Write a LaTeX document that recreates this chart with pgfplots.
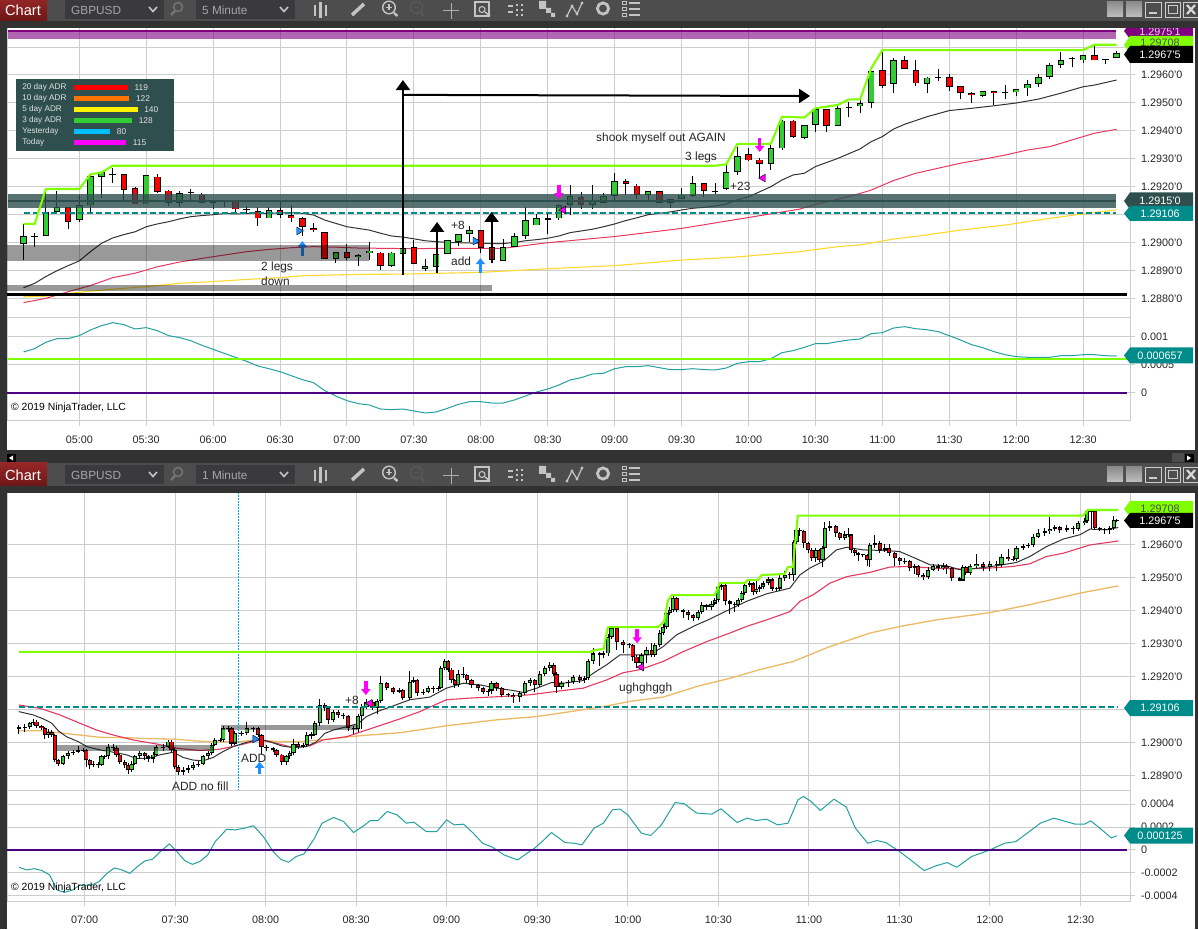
\documentclass[border=0pt]{standalone}
\usepackage{fontspec}
\setmainfont{Liberation Sans}
\usepackage{pgfplots}
\pgfplotsset{compat=1.18}
\usetikzlibrary{arrows.meta}
\definecolor{gridc}{HTML}{CDCDCD}
\definecolor{tbg}{HTML}{4D4D4D}
\definecolor{dk}{HTML}{323232}
\definecolor{boxc}{HTML}{3A3A3E}
\definecolor{ic}{HTML}{C4C4C4}
\definecolor{lime}{HTML}{7FFF00}
\definecolor{cg}{HTML}{32CD32}
\definecolor{cr}{HTML}{FF0000}
\definecolor{ma1}{HTML}{333333}
\definecolor{ma2}{HTML}{E6395F}
\definecolor{ma3}{HTML}{FFD92E}
\definecolor{ma4}{HTML}{EDB964}
\definecolor{dsl}{HTML}{2F4F4F}
\definecolor{tealf}{HTML}{008B8B}
\definecolor{oscc}{HTML}{24A0A0}
\definecolor{indig}{HTML}{4B0082}
\definecolor{purp}{HTML}{800080}
\definecolor{mag}{HTML}{FF00FF}
\definecolor{dblue}{HTML}{1E90FF}
\definecolor{skyb}{HTML}{00BFFF}
\definecolor{btna}{HTML}{962727}
\definecolor{btnb}{HTML}{6E1616}
\newcommand{\tl}{\fontsize{10.8}{12}\selectfont}
\newcommand{\ann}{\fontsize{11.9}{13}\selectfont}

% each bar: \C time open high low close;  turned into point lists for one path per layer
\def\C#1 #2 #3 #4 #5;{%
 \pgfmathsetmacro\cHi{max(#2,#5)}%
 \pgfmathsetmacro\cLo{min(#2,#5)}%
 \pgfmathsetmacro\cHa{max(\cHi,(#2+#5)/2+0.00002)}%
 \pgfmathsetmacro\cLa{min(\cLo,(#2+#5)/2-0.00002)}%
 \xdef\cW{\cW(#1,#4)(#1,#3)(#1,nan)}%
 \xdef\cK{\cK(#1,\cLa)(#1,\cHa)(#1,nan)}%
 \pgfmathtruncatemacro\cBig{(\cHi-\cLo)>0.00005}%
 \ifnum\cBig=1
  \pgfmathsetmacro\cHb{\cHi-0.00003}%
  \pgfmathsetmacro\cLb{\cLo+0.00003}%
  \ifdim#5pt>#2pt
   \xdef\cG{\cG(#1,\cLb)(#1,\cHb)(#1,nan)}%
  \else
   \xdef\cR{\cR(#1,\cLb)(#1,\cHb)(#1,nan)}%
  \fi
 \fi}
\newcommand{\buildbars}[1]{\gdef\cW{}\gdef\cK{}\gdef\cG{}\gdef\cR{}#1}
\newcommand{\drawbars}[2]{%
 \edef\tmpplot{\noexpand\addplot[forget plot,mark=none,black,line width=1pt,unbounded coords=jump] coordinates {\cW};}\tmpplot
 \edef\tmpplot{\noexpand\addplot[forget plot,mark=none,black,line width=#1pt,unbounded coords=jump] coordinates {\cK};}\tmpplot
 \edef\tmpplot{\noexpand\addplot[forget plot,mark=none,cg,line width=#2pt,unbounded coords=jump] coordinates {\cG};}\tmpplot
 \edef\tmpplot{\noexpand\addplot[forget plot,mark=none,cr,line width=#2pt,unbounded coords=jump] coordinates {\cR};}\tmpplot
}

% 5 minute bars: time (minutes after midnight), open, high, low, close
\def\barsA{%
\C 275 1.28998 1.29068 1.28939 1.29024;
\C 280 1.29024 1.29035 1.28987 1.29024;
\C 285 1.29025 1.29183 1.29025 1.29113;
\C 290 1.29113 1.29186 1.29113 1.29127;
\C 295 1.29127 1.29127 1.29050 1.29074;
\C 300 1.29081 1.29171 1.29076 1.29135;
\C 305 1.29133 1.29243 1.29111 1.29239;
\C 310 1.29238 1.29255 1.29161 1.29252;
\C 315 1.29246 1.29267 1.29215 1.29246;
\C 320 1.29245 1.29245 1.29150 1.29190;
\C 325 1.29195 1.29199 1.29138 1.29138;
\C 330 1.29138 1.29244 1.29138 1.29242;
\C 335 1.29238 1.29246 1.29180 1.29183;
\C 340 1.29187 1.29189 1.29133 1.29145;
\C 345 1.29145 1.29185 1.29130 1.29180;
\C 350 1.29180 1.29192 1.29149 1.29180;
\C 355 1.29173 1.29180 1.29145 1.29145;
\C 360 1.29145 1.29145 1.29123 1.29145;
\C 365 1.29148 1.29150 1.29130 1.29148;
\C 370 1.29149 1.29150 1.29111 1.29120;
\C 375 1.29118 1.29131 1.29106 1.29118;
\C 380 1.29115 1.29130 1.29062 1.29088;
\C 385 1.29088 1.29127 1.29088 1.29119;
\C 390 1.29119 1.29149 1.29088 1.29099;
\C 395 1.29100 1.29135 1.29076 1.29088;
\C 400 1.29090 1.29092 1.29026 1.29057;
\C 405 1.29055 1.29070 1.29040 1.29045;
\C 410 1.29040 1.29040 1.28945 1.28945;
\C 415 1.28945 1.28967 1.28929 1.28967;
\C 420 1.28967 1.28995 1.28939 1.28948;
\C 425 1.28949 1.28960 1.28919 1.28958;
\C 430 1.28963 1.29005 1.28939 1.28973;
\C 435 1.28965 1.28967 1.28904 1.28919;
\C 440 1.28917 1.28967 1.28915 1.28965;
\C 445 1.28960 1.28987 1.28960 1.28981;
\C 450 1.28985 1.29011 1.28925 1.28925;
\C 455 1.28908 1.28942 1.28901 1.28917;
\C 460 1.28915 1.28960 1.28892 1.28960;
\C 465 1.28960 1.29010 1.28960 1.29010;
\C 470 1.29005 1.29032 1.28990 1.29032;
\C 475 1.29031 1.29061 1.29002 1.29045;
\C 480 1.29045 1.29046 1.28965 1.28983;
\C 485 1.28985 1.28987 1.28927 1.28942;
\C 490 1.28937 1.29013 1.28937 1.28985;
\C 495 1.28985 1.29035 1.28985 1.29024;
\C 500 1.29024 1.29127 1.29015 1.29081;
\C 505 1.29063 1.29104 1.29063 1.29088;
\C 510 1.29088 1.29104 1.29032 1.29081;
\C 515 1.29088 1.29138 1.29081 1.29135;
\C 520 1.29135 1.29206 1.29099 1.29167;
\C 525 1.29163 1.29181 1.29123 1.29135;
\C 530 1.29135 1.29206 1.29123 1.29149;
\C 535 1.29145 1.29177 1.29145 1.29167;
\C 540 1.29167 1.29249 1.29152 1.29220;
\C 545 1.29220 1.29227 1.29170 1.29210;
\C 550 1.29206 1.29210 1.29156 1.29174;
\C 555 1.29174 1.29185 1.29145 1.29185;
\C 560 1.29185 1.29185 1.29145 1.29145;
\C 565 1.29145 1.29156 1.29124 1.29156;
\C 570 1.29156 1.29195 1.29156 1.29174;
\C 575 1.29167 1.29238 1.29163 1.29213;
\C 580 1.29213 1.29214 1.29163 1.29185;
\C 585 1.29185 1.29213 1.29174 1.29185;
\C 590 1.29192 1.29277 1.29188 1.29252;
\C 595 1.29252 1.29342 1.29242 1.29310;
\C 600 1.29317 1.29338 1.29292 1.29295;
\C 605 1.29299 1.29302 1.29235 1.29281;
\C 610 1.29281 1.29349 1.29260 1.29338;
\C 615 1.29338 1.29438 1.29331 1.29438;
\C 620 1.29438 1.29438 1.29374 1.29377;
\C 625 1.29374 1.29420 1.29370 1.29420;
\C 630 1.29420 1.29477 1.29395 1.29477;
\C 635 1.29477 1.29477 1.29395 1.29417;
\C 640 1.29417 1.29488 1.29417 1.29481;
\C 645 1.29483 1.29505 1.29449 1.29483;
\C 650 1.29488 1.29510 1.29463 1.29502;
\C 655 1.29502 1.29613 1.29481 1.29613;
\C 660 1.29617 1.29681 1.29552 1.29563;
\C 665 1.29567 1.29660 1.29535 1.29652;
\C 670 1.29652 1.29667 1.29624 1.29624;
\C 675 1.29617 1.29652 1.29560 1.29570;
\C 680 1.29567 1.29592 1.29535 1.29592;
\C 685 1.29592 1.29620 1.29577 1.29592;
\C 690 1.29595 1.29602 1.29542 1.29556;
\C 695 1.29560 1.29560 1.29513 1.29535;
\C 700 1.29535 1.29538 1.29499 1.29527;
\C 705 1.29524 1.29542 1.29520 1.29542;
\C 710 1.29542 1.29542 1.29492 1.29535;
\C 715 1.29537 1.29563 1.29513 1.29537;
\C 720 1.29538 1.29549 1.29524 1.29549;
\C 725 1.29552 1.29581 1.29524 1.29567;
\C 730 1.29567 1.29602 1.29556 1.29595;
\C 735 1.29595 1.29642 1.29585 1.29635;
\C 740 1.29635 1.29681 1.29624 1.29652;
\C 745 1.29660 1.29663 1.29627 1.29660;
\C 750 1.29652 1.29670 1.29642 1.29670;
\C 755 1.29670 1.29706 1.29652 1.29652;
\C 760 1.29655 1.29655 1.29638 1.29655;
\C 765 1.29660 1.29685 1.29660 1.29677;
}

% 1 minute chart, bars
\def\barsB{%
\C 398.2 1.29040 1.29052 1.29025 1.29047;
\C 400.2 1.29047 1.29055 1.29030 1.29045;
\C 401.9 1.29045 1.29062 1.29040 1.29057;
\C 403.0 1.29057 1.29072 1.29052 1.29063;
\C 404.1 1.29063 1.29068 1.29044 1.29049;
\C 405.7 1.29049 1.29053 1.29036 1.29042;
\C 406.8 1.29042 1.29046 1.29010 1.29022;
\C 408.0 1.29022 1.29040 1.29014 1.29032;
\C 409.1 1.29032 1.29036 1.29016 1.29022;
\C 410.2 1.29022 1.29026 1.28940 1.28946;
\C 411.3 1.28946 1.28950 1.28928 1.28936;
\C 412.9 1.28936 1.28962 1.28930 1.28956;
\C 414.6 1.28956 1.28975 1.28950 1.28967;
\C 416.2 1.28967 1.28976 1.28962 1.28972;
\C 417.9 1.28972 1.28990 1.28968 1.28977;
\C 419.5 1.28977 1.28982 1.28970 1.28977;
\C 420.6 1.28977 1.28980 1.28925 1.28946;
\C 421.7 1.28946 1.28950 1.28918 1.28931;
\C 422.9 1.28931 1.28944 1.28925 1.28936;
\C 424.5 1.28936 1.28940 1.28922 1.28931;
\C 425.6 1.28931 1.28962 1.28928 1.28956;
\C 426.7 1.28956 1.28962 1.28950 1.28956;
\C 427.8 1.28956 1.28995 1.28950 1.28985;
\C 429.5 1.28985 1.28996 1.28975 1.28982;
\C 430.6 1.28982 1.28988 1.28955 1.28962;
\C 431.7 1.28962 1.28966 1.28935 1.28941;
\C 433.3 1.28941 1.28945 1.28922 1.28931;
\C 434.5 1.28931 1.28936 1.28905 1.28916;
\C 435.6 1.28916 1.28942 1.28910 1.28936;
\C 436.7 1.28936 1.28962 1.28930 1.28956;
\C 438.3 1.28956 1.28973 1.28950 1.28967;
\C 440.0 1.28967 1.28972 1.28945 1.28956;
\C 441.1 1.28956 1.28960 1.28940 1.28951;
\C 442.7 1.28951 1.28970 1.28938 1.28962;
\C 443.8 1.28962 1.28992 1.28958 1.28985;
\C 446.0 1.28985 1.28996 1.28975 1.28987;
\C 447.7 1.28987 1.29008 1.28982 1.29002;
\C 448.8 1.29002 1.29006 1.28970 1.28977;
\C 449.9 1.28977 1.28982 1.28920 1.28926;
\C 451.0 1.28926 1.28930 1.28902 1.28911;
\C 452.7 1.28911 1.28924 1.28902 1.28916;
\C 454.3 1.28916 1.28930 1.28908 1.28921;
\C 456.0 1.28921 1.28940 1.28915 1.28931;
\C 457.6 1.28931 1.28942 1.28926 1.28936;
\C 459.3 1.28936 1.28962 1.28932 1.28956;
\C 461.0 1.28956 1.28975 1.28950 1.28967;
\C 462.1 1.28967 1.28998 1.28960 1.28992;
\C 463.2 1.28992 1.29014 1.28988 1.29007;
\C 465.0 1.29007 1.29012 1.29000 1.29007;
\C 466.0 1.29007 1.29050 1.29002 1.29042;
\C 467.6 1.29042 1.29048 1.29030 1.29042;
\C 468.7 1.29042 1.29046 1.28990 1.28997;
\C 469.8 1.28997 1.29033 1.28992 1.29027;
\C 472.0 1.29027 1.29034 1.29020 1.29027;
\C 473.7 1.29027 1.29060 1.29022 1.29042;
\C 475.9 1.29042 1.29046 1.29032 1.29042;
\C 477.5 1.29042 1.29045 1.29015 1.29022;
\C 478.6 1.29022 1.29026 1.28965 1.28987;
\C 480.3 1.28987 1.28992 1.28975 1.28982;
\C 482.5 1.28982 1.28986 1.28970 1.28977;
\C 483.6 1.28977 1.28980 1.28955 1.28962;
\C 485.3 1.28962 1.28966 1.28930 1.28941;
\C 486.9 1.28941 1.28962 1.28930 1.28956;
\C 488.0 1.28956 1.28975 1.28950 1.28967;
\C 489.2 1.28967 1.29010 1.28960 1.28997;
\C 490.8 1.28997 1.29002 1.28980 1.28987;
\C 492.4 1.28987 1.28998 1.28982 1.28992;
\C 493.6 1.28992 1.29030 1.28986 1.29022;
\C 495.2 1.29022 1.29030 1.29010 1.29022;
\C 496.3 1.29022 1.29065 1.29018 1.29057;
\C 498.0 1.29057 1.29130 1.29050 1.29113;
\C 499.6 1.29113 1.29118 1.29095 1.29103;
\C 500.7 1.29103 1.29106 1.29055 1.29068;
\C 502.4 1.29068 1.29098 1.29060 1.29093;
\C 504.0 1.29093 1.29098 1.29075 1.29083;
\C 505.7 1.29083 1.29090 1.29070 1.29078;
\C 507.3 1.29078 1.29082 1.29035 1.29042;
\C 509.2 1.29042 1.29050 1.29025 1.29039;
\C 510.6 1.29039 1.29085 1.29030 1.29078;
\C 511.9 1.29078 1.29115 1.29040 1.29108;
\C 513.4 1.29108 1.29130 1.29102 1.29123;
\C 515.4 1.29123 1.29128 1.29098 1.29105;
\C 517.0 1.29105 1.29130 1.29085 1.29125;
\C 518.1 1.29125 1.29200 1.29118 1.29179;
\C 520.1 1.29179 1.29184 1.29158 1.29164;
\C 522.2 1.29164 1.29168 1.29146 1.29153;
\C 524.2 1.29153 1.29165 1.29148 1.29158;
\C 525.4 1.29158 1.29162 1.29128 1.29134;
\C 527.8 1.29134 1.29215 1.29128 1.29184;
\C 528.9 1.29184 1.29198 1.29180 1.29189;
\C 530.2 1.29189 1.29192 1.29140 1.29149;
\C 532.2 1.29149 1.29160 1.29142 1.29154;
\C 533.9 1.29154 1.29172 1.29148 1.29164;
\C 535.5 1.29164 1.29170 1.29150 1.29160;
\C 537.2 1.29160 1.29172 1.29154 1.29164;
\C 538.0 1.29164 1.29232 1.29160 1.29225;
\C 539.4 1.29225 1.29252 1.29218 1.29245;
\C 540.5 1.29245 1.29250 1.29212 1.29220;
\C 541.6 1.29220 1.29224 1.29180 1.29189;
\C 542.7 1.29189 1.29192 1.29165 1.29174;
\C 543.8 1.29174 1.29220 1.29168 1.29209;
\C 545.5 1.29209 1.29228 1.29196 1.29204;
\C 546.6 1.29204 1.29208 1.29180 1.29189;
\C 548.2 1.29189 1.29192 1.29165 1.29174;
\C 550.4 1.29174 1.29178 1.29155 1.29164;
\C 552.1 1.29164 1.29168 1.29145 1.29154;
\C 553.7 1.29154 1.29162 1.29140 1.29157;
\C 554.8 1.29157 1.29185 1.29145 1.29179;
\C 556.5 1.29179 1.29183 1.29155 1.29164;
\C 558.2 1.29164 1.29168 1.29136 1.29144;
\C 560.4 1.29144 1.29150 1.29136 1.29144;
\C 562.0 1.29144 1.29148 1.29120 1.29137;
\C 564.2 1.29137 1.29155 1.29122 1.29149;
\C 565.9 1.29149 1.29185 1.29142 1.29179;
\C 567.6 1.29179 1.29195 1.29172 1.29189;
\C 569.2 1.29189 1.29193 1.29152 1.29174;
\C 570.9 1.29174 1.29216 1.29168 1.29209;
\C 572.5 1.29209 1.29232 1.29200 1.29225;
\C 574.2 1.29225 1.29242 1.29215 1.29235;
\C 575.5 1.29235 1.29240 1.29200 1.29209;
\C 576.4 1.29209 1.29212 1.29150 1.29169;
\C 578.0 1.29169 1.29186 1.29160 1.29179;
\C 580.2 1.29179 1.29190 1.29168 1.29184;
\C 581.9 1.29184 1.29205 1.29178 1.29199;
\C 584.1 1.29199 1.29204 1.29180 1.29189;
\C 585.8 1.29189 1.29200 1.29180 1.29194;
\C 586.9 1.29194 1.29252 1.29188 1.29245;
\C 588.5 1.29245 1.29285 1.29238 1.29270;
\C 590.7 1.29270 1.29275 1.29230 1.29265;
\C 591.9 1.29265 1.29278 1.29255 1.29270;
\C 593.5 1.29270 1.29328 1.29262 1.29320;
\C 594.6 1.29320 1.29350 1.29312 1.29346;
\C 596.3 1.29346 1.29350 1.29280 1.29305;
\C 598.5 1.29305 1.29310 1.29270 1.29295;
\C 600.4 1.29295 1.29302 1.29285 1.29295;
\C 601.6 1.29295 1.29299 1.29245 1.29260;
\C 602.9 1.29260 1.29264 1.29225 1.29240;
\C 604.5 1.29240 1.29272 1.29218 1.29265;
\C 606.2 1.29265 1.29290 1.29240 1.29280;
\C 607.9 1.29280 1.29300 1.29260 1.29265;
\C 609.0 1.29265 1.29302 1.29260 1.29295;
\C 610.6 1.29295 1.29340 1.29288 1.29331;
\C 611.7 1.29331 1.29358 1.29325 1.29350;
\C 612.8 1.29350 1.29398 1.29342 1.29391;
\C 613.9 1.29391 1.29410 1.29385 1.29401;
\C 615.0 1.29401 1.29442 1.29396 1.29436;
\C 616.1 1.29436 1.29440 1.29395 1.29401;
\C 618.3 1.29401 1.29405 1.29378 1.29396;
\C 620.0 1.29396 1.29402 1.29370 1.29386;
\C 621.7 1.29386 1.29390 1.29368 1.29376;
\C 623.3 1.29376 1.29402 1.29370 1.29396;
\C 624.5 1.29396 1.29425 1.29390 1.29416;
\C 626.1 1.29416 1.29420 1.29400 1.29411;
\C 627.7 1.29411 1.29428 1.29402 1.29421;
\C 628.8 1.29421 1.29438 1.29415 1.29431;
\C 630.0 1.29431 1.29480 1.29425 1.29471;
\C 631.0 1.29471 1.29484 1.29462 1.29477;
\C 632.2 1.29477 1.29482 1.29415 1.29426;
\C 633.8 1.29426 1.29430 1.29390 1.29421;
\C 635.5 1.29421 1.29425 1.29395 1.29416;
\C 636.6 1.29416 1.29438 1.29410 1.29431;
\C 637.7 1.29431 1.29458 1.29426 1.29451;
\C 638.8 1.29451 1.29482 1.29445 1.29477;
\C 640.4 1.29477 1.29490 1.29470 1.29482;
\C 641.5 1.29482 1.29486 1.29445 1.29456;
\C 642.6 1.29456 1.29490 1.29450 1.29466;
\C 643.7 1.29466 1.29478 1.29455 1.29472;
\C 644.8 1.29472 1.29488 1.29465 1.29482;
\C 646.5 1.29482 1.29500 1.29476 1.29494;
\C 647.9 1.29494 1.29498 1.29460 1.29467;
\C 649.3 1.29467 1.29472 1.29460 1.29467;
\C 650.4 1.29467 1.29512 1.29460 1.29497;
\C 652.0 1.29497 1.29520 1.29490 1.29507;
\C 653.7 1.29507 1.29515 1.29495 1.29507;
\C 655.0 1.29507 1.29612 1.29490 1.29608;
\C 655.9 1.29608 1.29650 1.29600 1.29644;
\C 657.0 1.29644 1.29650 1.29625 1.29639;
\C 658.3 1.29639 1.29642 1.29590 1.29603;
\C 659.8 1.29603 1.29606 1.29575 1.29583;
\C 660.9 1.29583 1.29588 1.29550 1.29558;
\C 662.3 1.29558 1.29590 1.29545 1.29583;
\C 663.4 1.29583 1.29586 1.29545 1.29553;
\C 664.5 1.29553 1.29595 1.29530 1.29588;
\C 665.3 1.29588 1.29668 1.29580 1.29649;
\C 666.9 1.29649 1.29672 1.29640 1.29656;
\C 668.9 1.29656 1.29660 1.29622 1.29634;
\C 670.2 1.29634 1.29638 1.29612 1.29619;
\C 671.9 1.29619 1.29640 1.29612 1.29629;
\C 673.0 1.29629 1.29648 1.29622 1.29629;
\C 674.0 1.29629 1.29632 1.29575 1.29583;
\C 675.2 1.29583 1.29590 1.29565 1.29573;
\C 676.3 1.29573 1.29578 1.29550 1.29568;
\C 677.8 1.29568 1.29572 1.29562 1.29568;
\C 679.3 1.29568 1.29572 1.29535 1.29553;
\C 680.2 1.29553 1.29605 1.29530 1.29598;
\C 681.8 1.29598 1.29628 1.29590 1.29603;
\C 683.5 1.29603 1.29610 1.29575 1.29583;
\C 685.2 1.29583 1.29600 1.29578 1.29588;
\C 686.6 1.29588 1.29600 1.29565 1.29573;
\C 688.5 1.29573 1.29578 1.29535 1.29558;
\C 690.1 1.29558 1.29562 1.29538 1.29548;
\C 691.8 1.29548 1.29560 1.29540 1.29548;
\C 693.4 1.29548 1.29552 1.29520 1.29528;
\C 695.1 1.29528 1.29540 1.29510 1.29533;
\C 696.2 1.29533 1.29536 1.29500 1.29507;
\C 697.9 1.29507 1.29512 1.29492 1.29500;
\C 699.5 1.29500 1.29530 1.29495 1.29523;
\C 701.2 1.29523 1.29540 1.29518 1.29533;
\C 702.8 1.29533 1.29540 1.29520 1.29528;
\C 704.5 1.29528 1.29542 1.29522 1.29535;
\C 705.6 1.29535 1.29540 1.29510 1.29528;
\C 707.3 1.29528 1.29532 1.29490 1.29497;
\C 710.0 1.29497 1.29500 1.29488 1.29490;
\C 711.0 1.29490 1.29536 1.29488 1.29531;
\C 712.0 1.29531 1.29535 1.29508 1.29513;
\C 713.5 1.29513 1.29540 1.29508 1.29533;
\C 715.5 1.29533 1.29570 1.29528 1.29541;
\C 717.7 1.29541 1.29546 1.29518 1.29531;
\C 720.0 1.29531 1.29550 1.29520 1.29541;
\C 722.2 1.29541 1.29548 1.29520 1.29538;
\C 723.8 1.29538 1.29570 1.29530 1.29563;
\C 726.0 1.29563 1.29585 1.29550 1.29555;
\C 727.7 1.29555 1.29565 1.29550 1.29555;
\C 728.8 1.29555 1.29595 1.29550 1.29588;
\C 731.0 1.29588 1.29600 1.29584 1.29595;
\C 732.7 1.29595 1.29605 1.29590 1.29598;
\C 734.3 1.29598 1.29632 1.29592 1.29624;
\C 736.0 1.29624 1.29645 1.29618 1.29634;
\C 738.2 1.29634 1.29648 1.29625 1.29639;
\C 739.8 1.29639 1.29682 1.29632 1.29646;
\C 741.5 1.29646 1.29660 1.29640 1.29652;
\C 743.1 1.29652 1.29656 1.29635 1.29644;
\C 745.4 1.29644 1.29660 1.29636 1.29649;
\C 747.6 1.29649 1.29654 1.29630 1.29646;
\C 749.2 1.29646 1.29672 1.29640 1.29664;
\C 751.4 1.29664 1.29680 1.29658 1.29672;
\C 752.2 1.29672 1.29706 1.29665 1.29699;
\C 753.6 1.29699 1.29708 1.29645 1.29699;
\C 754.7 1.29699 1.29702 1.29642 1.29649;
\C 756.4 1.29649 1.29653 1.29640 1.29646;
\C 758.1 1.29646 1.29650 1.29632 1.29644;
\C 759.7 1.29644 1.29656 1.29630 1.29649;
\C 761.0 1.29649 1.29685 1.29642 1.29674;
\C 762.0 1.29674 1.29678 1.29668 1.29672;
}

\pgfplotsset{
 panel/.style={scale only axis,width=1123pt,clip=true,xmajorgrids,ymajorgrids,
  grid style={draw=gridc,line width=1pt},axis line style={draw=gridc,line width=1pt},
  tick style={draw=gridc,line width=1pt},tick align=outside,major tick length=5pt,
  ytick pos=right,yticklabel pos=right,xtick pos=bottom,
  ticklabel style={font=\tl,text=black!85},
  yticklabel style={anchor=west,xshift=2.5pt},
  xticklabel shift=6pt,
  scaled y ticks=false},
 topx/.style={xmin=267.6,xmax=771,xtick={300,330,...,750}},
 botx/.style={xmin=394.3,xmax=766.4,xtick={420,450,...,750}},
 noxlab/.style={xticklabels={},xtick style={draw=none}},
 mline/.style={line width=1pt,line join=round,forget plot,mark=none}
}

\begin{document}
\begin{tikzpicture}
\useasboundingbox (0,0) rectangle (1198pt,929pt);
\fill[dk] (0,0) rectangle (1198pt,929pt);
\fill[white] (6.5pt,436pt) rectangle (1195pt,901pt);
\fill[white] (6.5pt,0pt) rectangle (1195pt,436pt);
\fill[dk] (0pt,436pt) rectangle (1198pt,479pt);

% ---------- 5 minute price panel
\begin{axis}[panel,topx,noxlab,at={(7pt,611pt)},anchor=south west,height=290pt,
 ymin=1.287321,ymax=1.297679,
 ytick={1.288,1.289,1.29,1.291,1.292,1.293,1.294,1.295,1.296,1.297},
 yticklabels={1.2880'0,1.2890'0,1.2900'0,1.2910'0,1.2920'0,1.2930'0,1.2940'0,1.2950'0,1.2960'0,1.2970'0}]
\addplot[mline,ma3,line width=1.1pt] coordinates {(275,1.28808)(285,1.28810)(300,1.28824)(315,1.28835)(330,1.28844)(345,1.28856)(360,1.28862)(375,1.28870)(390,1.28876)(400,1.28883)(420,1.28887)(445,1.28889)(480,1.28895)(510,1.28908)(540,1.28919)(570,1.28939)(593,1.28949)(623,1.28969)(640,1.28987)(650,1.28993)(665,1.29014)(680,1.29029)(695,1.29046)(715,1.29064)(735,1.29088)(750,1.29104)(765,1.29118)};
\addplot[mline,ma2] coordinates {(275,1.28787)(285,1.28802)(295,1.28826)(305,1.28848)(315,1.28876)(325,1.28892)(335,1.28915)(345,1.28932)(355,1.28945)(365,1.28957)(375,1.28969)(385,1.28977)(395,1.28983)(405,1.28987)(415,1.28985)(425,1.28982)(435,1.28981)(445,1.28980)(480,1.28981)(490,1.28981)(510,1.29001)(540,1.29023)(570,1.29052)(593,1.29082)(623,1.29121)(630,1.29138)(640,1.29156)(650,1.29177)(655,1.29189)(665,1.29223)(675,1.29249)(685,1.29267)(695,1.29285)(705,1.29299)(715,1.29314)(725,1.29332)(735,1.29344)(745,1.29368)(755,1.29392)(765,1.29406)};
\addplot[mline,ma1] coordinates {(275,1.28840)(280,1.28856)(285,1.28880)(290,1.28901)(295,1.28919)(300,1.28936)(305,1.28969)(310,1.28999)(315,1.29018)(320,1.29030)(325,1.29040)(330,1.29058)(335,1.29068)(340,1.29076)(345,1.29086)(350,1.29094)(355,1.29098)(360,1.29101)(365,1.29105)(370,1.29104)(375,1.29105)(380,1.29106)(385,1.29106)(390,1.29107)(395,1.29108)(400,1.29106)(405,1.29100)(410,1.29082)(415,1.29070)(420,1.29058)(425,1.29052)(430,1.29046)(435,1.29035)(440,1.29025)(445,1.29021)(450,1.29015)(455,1.29008)(460,1.29005)(465,1.29002)(470,1.29001)(475,1.29000)(480,1.28999)(485,1.28998)(490,1.28998)(495,1.29002)(500,1.29008)(505,1.29012)(510,1.29017)(515,1.29025)(520,1.29037)(525,1.29043)(530,1.29049)(535,1.29058)(540,1.29068)(545,1.29080)(550,1.29090)(555,1.29101)(560,1.29106)(565,1.29111)(570,1.29118)(575,1.29124)(580,1.29127)(585,1.29132)(590,1.29139)(595,1.29154)(600,1.29165)(605,1.29183)(610,1.29201)(615,1.29225)(620,1.29243)(625,1.29249)(630,1.29273)(640,1.29302)(650,1.29336)(655,1.29362)(660,1.29380)(665,1.29407)(670,1.29424)(680,1.29451)(690,1.29473)(700,1.29481)(710,1.29490)(720,1.29500)(730,1.29514)(740,1.29535)(750,1.29558)(755,1.29564)(765,1.29582)};
\buildbars{\barsA}
\drawbars{6.5}{4.6}
\addplot[mline,dblue,line width=3.5pt,-{Triangle[width=9pt,length=6pt]}] coordinates {(400,1.28954)(400,1.29007)};
% zones
\addplot[fill=black,fill opacity=.4,draw=none,forget plot] coordinates {(267.6,1.28992)(430,1.28992)(430,1.28936)(267.6,1.28936)} --cycle;
\addplot[fill=black,fill opacity=.4,draw=none,forget plot] coordinates {(267.6,1.28850)(485,1.28850)(485,1.28829)(267.6,1.28829)} --cycle;
\addplot[fill=dsl,fill opacity=.8,draw=none,forget plot] coordinates {(268,1.29175)(764.8,1.29175)(764.8,1.29125)(268,1.29125)} --cycle;
\addplot[mline,dsl,line width=2pt] coordinates {(268,1.2915)(764.8,1.2915)};
\addplot[fill=purp,fill opacity=.6,draw=none,forget plot] coordinates {(268,1.29754)(764.8,1.29754)(764.8,1.29729)(268,1.29729)} --cycle;
\addplot[mline,purp,line width=2pt] coordinates {(268,1.29757)(764.8,1.29757)};
% levels
\addplot[mline,tealf,line width=2pt,dash pattern=on 6pt off 3pt] coordinates {(275,1.29106)(764.8,1.29106)};
\addplot[mline,black,line width=3pt] coordinates {(267.6,1.28817)(769.7,1.28817)};
\addplot[mline,lime,line width=2.1pt] coordinates {(275,1.29068)(280,1.29068)(285,1.29193)(300,1.29193)(305,1.29245)(310,1.29252)(315,1.29276)(585,1.29276)(590,1.29281)(595,1.29354)(610,1.29354)(615,1.29451)(625,1.29448)(630,1.29481)(640,1.29493)(645,1.29513)(650,1.29513)(655,1.29624)(660,1.29689)(750,1.29689)(755,1.29708)(765,1.29708)};
% annotation arrows
\addplot[mline,black,line width=2pt,-{Triangle[width=14pt,length=10pt]}] coordinates {(445.1,1.28886)(445.1,1.29582)};
\addplot[mline,black,line width=2pt,-{Triangle[width=14pt,length=11pt]}] coordinates {(445.1,1.29529)(627.6,1.29525)};
\addplot[mline,black,line width=2pt,-{Triangle[width=14pt,length=10pt]}] coordinates {(460.4,1.28893)(460.4,1.29075)};
\addplot[mline,black,line width=2pt,-{Triangle[width=14pt,length=10pt]}] coordinates {(484.8,1.28929)(484.8,1.29111)};
\addplot[mline,dblue,line width=3.5pt,-{Triangle[width=9pt,length=6pt]}] coordinates {(479.8,1.28894)(479.8,1.28946)};
\addplot[mline,mag,line width=3.5pt,-{Triangle[width=9pt,length=6pt]}] coordinates {(515,1.29207)(515,1.29157)};
\addplot[mline,mag,line width=3.5pt,-{Triangle[width=9pt,length=6pt]}] coordinates {(605,1.29375)(605,1.29325)};
\addplot[only marks,forget plot,mark=triangle*,mark size=4.5pt,mark options={rotate=-90,fill=dblue,draw=none}] coordinates {(398.5,1.29043)(477.5,1.29007)};
\addplot[only marks,forget plot,mark=triangle*,mark size=4.5pt,mark options={rotate=90,fill=mag,draw=none}] coordinates {(517,1.29118)(606.5,1.29232)};
\end{axis}

% ---------- 5 minute oscillator
\begin{axis}[panel,topx,at={(7pt,508pt)},anchor=south west,height=103pt,
 ymin=-0.0005,ymax=0.001339,ytick={0,0.0005,0.001},yticklabels={0,0.0005,0.001},
 xticklabels={05:00,05:30,06:00,06:30,07:00,07:30,08:00,08:30,09:00,09:30,10:00,10:30,11:00,11:30,12:00,12:30}]
\addplot[mline,oscc] coordinates {(275,0.000732)(280,0.000792)(285,0.000905)(290,0.000970)(295,0.000970)(300,0.001024)(305,0.001125)(310,0.001202)(315,0.001256)(320,0.001220)(325,0.001143)(330,0.001167)(335,0.001113)(340,0.001024)(345,0.000988)(350,0.000934)(355,0.000851)(360,0.000780)(365,0.000708)(370,0.000637)(375,0.000565)(380,0.000482)(385,0.000434)(390,0.000381)(395,0.000309)(400,0.000238)(405,0.000184)(410,0.000042)(415,-0.000054)(420,-0.000137)(425,-0.000190)(430,-0.000214)(435,-0.000286)(440,-0.000298)(445,-0.000286)(450,-0.000321)(455,-0.000357)(460,-0.000339)(465,-0.000274)(470,-0.000202)(475,-0.000155)(480,-0.000155)(485,-0.000179)(490,-0.000179)(495,-0.000125)(500,-0.000054)(505,0.000018)(510,0.000071)(515,0.000143)(520,0.000232)(525,0.000274)(530,0.000339)(535,0.000351)(540,0.000434)(545,0.000470)(550,0.000470)(555,0.000488)(560,0.000452)(565,0.000417)(570,0.000417)(575,0.000434)(580,0.000417)(585,0.000411)(590,0.000446)(595,0.000530)(600,0.000559)(605,0.000559)(610,0.000613)(615,0.000720)(620,0.000756)(625,0.000815)(630,0.000881)(635,0.000881)(640,0.000916)(645,0.000946)(650,0.000964)(655,0.001059)(660,0.001077)(665,0.001160)(670,0.001184)(675,0.001148)(680,0.001130)(685,0.001095)(690,0.001023)(695,0.000946)(700,0.000863)(705,0.000809)(710,0.000738)(715,0.000684)(720,0.000649)(725,0.000637)(730,0.000637)(735,0.000637)(740,0.000666)(745,0.000666)(750,0.000684)(755,0.000684)(760,0.000666)(765,0.000660)};
\addplot[mline,lime,line width=2.1pt] coordinates {(267.6,0.000612)(769.7,0.000612)};
\addplot[mline,indig,line width=2pt] coordinates {(267.6,0)(769.7,0)};
\end{axis}

% ---------- 1 minute price panel
\begin{axis}[panel,botx,noxlab,at={(7pt,138.3pt)},anchor=south west,height=297.7pt,
 ymin=1.288533,ymax=1.297555,
 ytick={1.289,1.29,1.291,1.292,1.293,1.294,1.295,1.296},
 yticklabels={1.2890'0,1.2900'0,1.2910'0,1.2920'0,1.2930'0,1.2940'0,1.2950'0,1.2960'0}]
\addplot[mline,ma4,line width=1.3pt] coordinates {(398.2,1.29035)(405.2,1.29035)(411.3,1.29029)(418.4,1.29022)(425.1,1.29015)(433.9,1.29014)(441.6,1.29011)(449.4,1.29010)(457.1,1.29004)(463.7,1.29001)(471.5,1.29002)(477,1.29007)(484.7,1.29002)(491.3,1.29002)(498,1.29007)(510.1,1.29019)(524.5,1.29029)(531.1,1.29038)(539.9,1.29050)(556.5,1.29068)(569.8,1.29078)(590.7,1.29106)(600.7,1.29124)(611.7,1.29137)(622.8,1.29169)(633.8,1.29194)(643.7,1.29220)(654.8,1.29245)(666.9,1.29290)(680.2,1.29331)(690.1,1.29351)(702.3,1.29371)(720,1.29393)(733.2,1.29417)(749.8,1.29452)(762.5,1.29474)};
\addplot[mline,ma2,line width=1.1pt] coordinates {(398.2,1.29113)(405.2,1.29103)(411.8,1.29083)(418.4,1.29058)(424,1.29037)(429.5,1.29022)(436.1,1.29007)(443.8,1.28995)(450.5,1.28982)(458.2,1.28975)(464.8,1.28979)(471.5,1.28992)(478.1,1.29007)(483.6,1.28997)(489.1,1.28984)(494.6,1.28989)(499,1.29007)(506.8,1.29017)(513.4,1.29037)(524.5,1.29071)(531.1,1.29093)(539.9,1.29129)(547.7,1.29134)(558.7,1.29139)(567.6,1.29144)(578.6,1.29157)(585.2,1.29164)(593,1.29189)(598.5,1.29211)(604,1.29220)(611.7,1.29245)(618.4,1.29275)(626.1,1.29305)(633.8,1.29331)(639.3,1.29351)(646,1.29371)(653.7,1.29396)(657,1.29427)(661.4,1.29447)(666.9,1.29482)(672.5,1.29502)(680.2,1.29515)(686.8,1.29531)(693.4,1.29533)(702.3,1.29527)(711.1,1.29525)(720,1.29528)(727.7,1.29533)(733.2,1.29541)(738.7,1.29563)(744.3,1.29573)(753.1,1.29598)(762.5,1.29610)};
\addplot[mline,ma1] coordinates {(398.2,1.29093)(403,1.29083)(406.3,1.29071)(409.1,1.29058)(411.3,1.29035)(414,1.29017)(417.9,1.29002)(420.7,1.28987)(425.1,1.28977)(429.5,1.28970)(433.9,1.28962)(437.2,1.28951)(441.1,1.28951)(445,1.28962)(449.4,1.28970)(452.7,1.28954)(456,1.28946)(459.3,1.28944)(462.6,1.28954)(465.9,1.28972)(469.2,1.28987)(473.7,1.29000)(478.1,1.29009)(481.4,1.29002)(485.3,1.28989)(489.1,1.28984)(493.5,1.28987)(496.9,1.29002)(499.6,1.29027)(502.4,1.29037)(506.8,1.29047)(510.7,1.29057)(513.4,1.29078)(517.8,1.29096)(522.2,1.29110)(524.5,1.29118)(527.8,1.29129)(534.4,1.29137)(539.9,1.29164)(545.5,1.29179)(551,1.29174)(556.5,1.29164)(562,1.29157)(565.3,1.29151)(569.8,1.29164)(574.7,1.29181)(578.6,1.29179)(585.2,1.29187)(588.5,1.29209)(593,1.29235)(597.4,1.29265)(602.9,1.29265)(607.3,1.29265)(611.7,1.29290)(616.2,1.29326)(622.8,1.29356)(626.6,1.29371)(633.8,1.29403)(639.3,1.29427)(646,1.29450)(653.7,1.29467)(657,1.29507)(660.3,1.29528)(664.7,1.29548)(669.1,1.29583)(672.5,1.29591)(678,1.29583)(685.7,1.29581)(690.1,1.29578)(695.7,1.29556)(700.1,1.29538)(705.6,1.29535)(710,1.29523)(715.5,1.29527)(722.2,1.29535)(728.8,1.29545)(733.2,1.29563)(738.7,1.29593)(744.3,1.29616)(749.8,1.29629)(753.1,1.29646)(758.6,1.29644)(762.5,1.29651)};
\buildbars{\barsB}
\drawbars{4.2}{2.3}
\addplot[fill=black,fill opacity=.4,draw=none,forget plot] coordinates {(411,1.28991)(462.6,1.28991)(462.6,1.28975)(411,1.28975)} --cycle;
\addplot[fill=black,fill opacity=.4,draw=none,forget plot] coordinates {(465.2,1.29052)(510.5,1.29052)(510.5,1.29037)(465.2,1.29037)} --cycle;
\addplot[mline,tealf,line width=2pt,dash pattern=on 6pt off 3pt] coordinates {(398.2,1.29106)(762.4,1.29106)};
\addplot[mline,cyan,line width=1.2pt,dash pattern=on 2pt off 1pt] coordinates {(471,1.288533)(471,1.297555)};
\addplot[mline,lime,line width=2.1pt] coordinates {(398.2,1.29274)(587.4,1.29274)(589.4,1.29280)(592,1.29283)(593.4,1.29349)(610,1.29349)(612,1.29365)(613.3,1.29430)(614.6,1.29446)(628.8,1.29446)(630.5,1.29483)(638.8,1.29483)(639.8,1.29492)(643.1,1.29492)(644.4,1.29507)(652,1.29510)(653,1.29531)(654.7,1.29531)(656.3,1.29687)(750.8,1.29687)(752.5,1.29704)(762.4,1.29704)};
\addplot[mline,dblue,line width=3.5pt,-{Triangle[width=9pt,length=6pt]}] coordinates {(478,1.28904)(478,1.28941)};
\addplot[mline,mag,line width=3.5pt,-{Triangle[width=9pt,length=6pt]}] coordinates {(513.2,1.29186)(513.2,1.29143)};
\addplot[mline,mag,line width=3.5pt,-{Triangle[width=9pt,length=6pt]}] coordinates {(603.1,1.29343)(603.1,1.29300)};
\addplot[only marks,forget plot,mark=triangle*,mark size=4.5pt,mark options={rotate=-90,fill=dblue,draw=none}] coordinates {(476.5,1.29010)};
\addplot[only marks,forget plot,mark=triangle*,mark size=4.5pt,mark options={rotate=90,fill=mag,draw=none}] coordinates {(514.5,1.29118)(604.5,1.29228)};
\end{axis}

% ---------- 1 minute oscillator
\begin{axis}[panel,botx,at={(7pt,28pt)},anchor=south west,height=110.3pt,
 ymin=-0.000447,ymax=0.000518,ytick={-0.0004,-0.0002,0,0.0002,0.0004},yticklabels={-0.0004,-0.0002,0,0.0002,0.0004},
 xticklabels={07:00,07:30,08:00,08:30,09:00,09:30,10:00,10:30,11:00,11:30,12:00,12:30}]
\addplot[mline,oscc] coordinates {(398.3,-0.000152)(400.8,-0.000175)(403.3,-0.000164)(405.9,-0.000181)(408.4,-0.000219)(410.9,-0.000351)(413.4,-0.000371)(416,-0.000351)(418.5,-0.000307)(422.3,-0.000307)(424.8,-0.000278)(427.4,-0.000205)(429.9,-0.000158)(432.4,-0.000175)(435,-0.000205)(437.5,-0.000146)(440,-0.000096)(442.5,-0.000082)(445.1,-0.000015)(448.1,0.000053)(450.6,-0.000015)(453.2,-0.000094)(455.7,-0.000126)(458.2,-0.000102)(460.8,-0.000044)(463.3,0.000073)(467.1,0.000181)(469.9,0.000175)(472.9,0.000190)(476,0.000211)(479.2,0.000117)(482.5,-0.000015)(485,-0.000082)(487.6,-0.000108)(490.1,-0.000058)(492.7,-0.000035)(496.2,0.000102)(498.7,0.000234)(502.5,0.000284)(505.8,0.000249)(509.1,0.000152)(512.2,0.000205)(514.7,0.000257)(517.2,0.000257)(520.3,0.000336)(523.5,0.000307)(526.6,0.000234)(529.1,0.000243)(533.2,0.000161)(536.7,0.000161)(540,0.000263)(542.5,0.000219)(545.6,0.000225)(548.8,0.000146)(551.9,0.000058)(555.2,0.000023)(559,-0.000044)(563.5,-0.000088)(566.6,-0.000029)(569.1,0.000015)(571.6,0.000073)(574.7,0.000152)(579.2,0.000064)(582.3,0.000058)(584.8,0.000044)(588.8,0.000190)(591.9,0.000234)(594.9,0.000351)(597.4,0.000357)(600,0.000307)(604.5,0.000146)(607.6,0.000126)(611.1,0.000219)(615.7,0.000415)(618.7,0.000404)(622.8,0.000322)(626,0.000316)(627.8,0.000313)(630.9,0.000360)(636.2,0.000240)(639.5,0.000278)(642.5,0.000257)(646,0.000269)(649.6,0.000219)(653.1,0.000234)(656.4,0.000439)(658.2,0.000468)(660.7,0.000424)(663.8,0.000345)(668.3,0.000444)(672.4,0.000374)(675.4,0.000190)(679.5,0.000058)(682.5,0.000082)(685.5,0.000064)(690.1,-0.000015)(694.4,-0.000102)(698.2,-0.000181)(702,-0.000140)(705.8,-0.000111)(709,-0.000152)(713.9,-0.000058)(720,0)(724.8,0.000058)(728.6,0.000073)(732.3,0.000146)(736.7,0.000234)(741.2,0.000278)(745,0.000249)(748.3,0.000225)(751.3,0.000225)(753.4,0.000254)(756.4,0.000190)(760.2,0.000105)(762,0.000123)};
\addplot[mline,indig,line width=2pt] coordinates {(394.3,0)(765.4,0)};
\end{axis}

% ---------- ADR box
\begin{axis}[hide axis,scale only axis,clip=false,at={(16pt,778pt)},anchor=south west,width=158pt,height=72pt,
 xmin=-126.3,xmax=219.5,ymin=0.209,ymax=6.755]
\addplot[fill=dsl,draw=none,forget plot] coordinates {(-126.3,0.209)(219.5,0.209)(219.5,6.755)(-126.3,6.755)} --cycle;
\newcommand{\adr}[4]{%
 \addplot[forget plot,mark=none,color=#2,line width=5.2pt,line cap=butt] coordinates {(0,#1)(#3,#1)} node[pos=1,anchor=west,xshift=4pt,yshift=-.3pt,inner sep=0pt,text=white!88!black,font=\fontsize{8.4}{9}\selectfont]{#3};
 \node[anchor=west,inner sep=0pt,text=white!88!black,font=\fontsize{8.2}{9}\selectfont,yshift=-.5pt] at (axis cs:-113,#1) {#4};}
\adr{6}{red}{119}{20 day ADR}
\adr{5}{orange!90!red}{122}{10 day ADR}
\adr{4}{yellow}{140}{5 day ADR}
\adr{3}{cg}{128}{3 day ADR}
\adr{2}{skyb}{80}{Yesterday}
\adr{1}{mag}{115}{Today}
\end{axis}

% ---------- price tags, texts, window chrome; page coordinates in pixels from the top left
\begin{scope}[shift={(0pt,929pt)},x=1pt,y=-1pt]
\newcommand{\flag}[6]{% y centre, half height, colour, text colour, text, text y
 \fill[#3] (1124,#1)--(1130,#1-#2)--(1193,#1-#2)--(1193,#1+#2)--(1130,#1+#2)--cycle;
 \node[text=#4,font=\tl,inner sep=0pt] at (1160,#6) {#5};}
\flag{31}{8}{purp}{white!85!black}{1.2975'1}{32}
\flag{45}{9}{lime}{black!70}{1.29708}{43}
\flag{54.5}{8.5}{black}{white}{1.2967'5}{54.5}
\flag{201}{8.5}{dsl}{white}{1.2915'0}{201}
\flag{213.5}{7.5}{tealf}{white}{1.29106}{214}
\flag{355.5}{8}{tealf}{white}{0.000657}{356}
\flag{509}{8}{lime}{black!70}{1.29708}{509}
\flag{520.5}{7.5}{black}{white}{1.2967'5}{521}
\flag{708}{8}{tealf}{white}{1.29106}{708}
\flag{835.5}{8}{tealf}{white}{0.000125}{836}

\tikzset{anno/.style={inner sep=0pt,font=\ann,text=black!85}}
\node[anno,anchor=west] at (261,267.5) {2 legs};
\node[anno,anchor=west] at (261,281.5) {down};
\node[anno,anchor=west] at (596,138.5) {shook myself out AGAIN};
\node[anno,anchor=west] at (685,157.5) {3 legs};
\node[anno,anchor=west] at (451,225.5) {+8};
\node[anno,anchor=west] at (451,261.5) {add};
\node[anno,anchor=west] at (730,186.5) {+23};
\node[anno,anchor=west] at (345,700.5) {+8};
\node[anno,anchor=west] at (619,688.5) {ughghggh};
\node[anno,anchor=west] at (241,758.5) {ADD};
\node[anno,anchor=west] at (172,786.5) {ADD no fill};
\node[anchor=west,inner sep=0pt,font=\fontsize{10.4}{12}\selectfont] at (11,408) {\textcopyright{} 2019 NinjaTrader, LLC};
\node[anchor=west,inner sep=0pt,font=\fontsize{10.4}{12}\selectfont] at (11,888) {\textcopyright{} 2019 NinjaTrader, LLC};

\newcommand{\toolbar}[2]{%
\begin{scope}[shift={(0,#1)}]
\fill[dk] (0,-2) rectangle (1198,28);
\fill[tbg] (0,-2) rectangle (1198,21);
\shade[top color=btna,bottom color=btnb] (0,-2) rectangle (47,20.5);
\node[text=white,font=\fontsize{14.6}{16}\selectfont,inner sep=0pt] at (23,10) {Chart};
\fill[boxc] (65,0) rectangle (164,19);
\fill[boxc] (196,0) rectangle (295,19);
\node[anchor=west,inner sep=0pt,text=white!65!black,font=\fontsize{11.8}{13}\selectfont] at (71,10) {GBPUSD};
\node[anchor=west,inner sep=0pt,text=white!65!black,font=\fontsize{11.8}{13}\selectfont] at (202,10) {#2};
\draw[ic,line width=1.6pt] (149,7)--(153,11.5)--(157,7);
\draw[ic,line width=1.6pt] (280,7)--(284,11.5)--(288,7);
\draw[black!40!ic,line width=1.4pt] (178,7) circle (4.5);
\draw[black!40!ic,line width=2.2pt] (175,11)--(171,15);
% icons
\draw[ic,line width=2.2pt] (315,5)--(315,16) (320.5,2)--(320.5,18) (326,5)--(326,16);
\draw[ic,line width=3.5pt] (352,15)--(364,4);
\draw[ic,line width=1.4pt] (389,7.5) circle (6.3);
\draw[ic,line width=1.2pt] (386,7.5)--(392,7.5) (389,4.5)--(389,10.5);
\draw[ic,line width=2.4pt] (394,13)--(397.5,16);
\draw[black!55!ic,line width=1.4pt] (416.5,7.5) circle (6);
\draw[black!55!ic,line width=1.2pt] (414,7.5)--(419,7.5);
\draw[black!55!ic,line width=2.4pt] (421,13)--(424,16);
\draw[ic!90!black,line width=1pt] (443,11)--(459,11) (451,3)--(451,19);
\draw[ic,line width=1.2pt] (475,2) rectangle (489,16);
\draw[ic,line width=1.1pt] (482,9.5) circle (3);
\draw[ic,line width=1.5pt] (485,12)--(490,16);
\draw[ic,line width=2pt] (508,6)--(513,6) (508,12)--(513,12) (517,4)--(517,6) (517,9)--(517,11) (517,14)--(517,16) (522,4)--(522,6) (522,9)--(522,11) (522,14)--(522,16);
\fill[ic] (539,1) rectangle (546,9) (546,8) rectangle (551,13) (551,13) rectangle (555,17);
\draw[ic,line width=1.2pt] (567,16)--(572,6)--(577,14)--(582,3);
\fill[ic] (567,16) circle (1.6) (572,6) circle (1.6) (577,14) circle (1.6) (582,3) circle (1.6);
\draw[ic,line width=2.8pt] (603,8.5) circle (5.6);
\draw[ic,line width=1pt] (622.5,2) rectangle (626,5) (622.5,8) rectangle (626,11) (622.5,13.5) rectangle (626,16.5);
\draw[ic,line width=2pt] (629,3.5)--(640,3.5) (629,9.5)--(640,9.5) (629,15)--(640,15);
% window buttons
\shade[top color=white!55!black,bottom color=white!75!black] (1107,2) rectangle (1123,17);
\shade[top color=white!55!black,bottom color=white!75!black] (1126,2) rectangle (1142,17);
\draw[white!80!black,line width=.9pt] (1145.5,2) rectangle (1161,17) (1165,2) rectangle (1180,17) (1183.8,2) rectangle (1198.5,17);
\draw[white!80!black,line width=1.8pt] (1149,13)--(1157,13);
\draw[white!80!black,line width=1pt] (1168,6)--(1177,6) (1168,6) rectangle (1177,14);
\draw[white!85!black,line width=2.2pt] (1187,5)--(1195,14) (1195,5)--(1187,14);
\end{scope}}
\toolbar{0}{5 Minute}
\toolbar{465}{1 Minute}
% scrollbar
\fill[black] (7,454) rectangle (16,462);
\fill[white] (9,458)--(13,455.5)--(13,460.5)--cycle;
\fill[black] (1185,454) rectangle (1194,462);
\fill[white] (1191,458)--(1187,455.5)--(1187,460.5)--cycle;
\fill[tbg] (1172,453) rectangle (1184,462);
\end{scope}
\end{tikzpicture}
\end{document}
